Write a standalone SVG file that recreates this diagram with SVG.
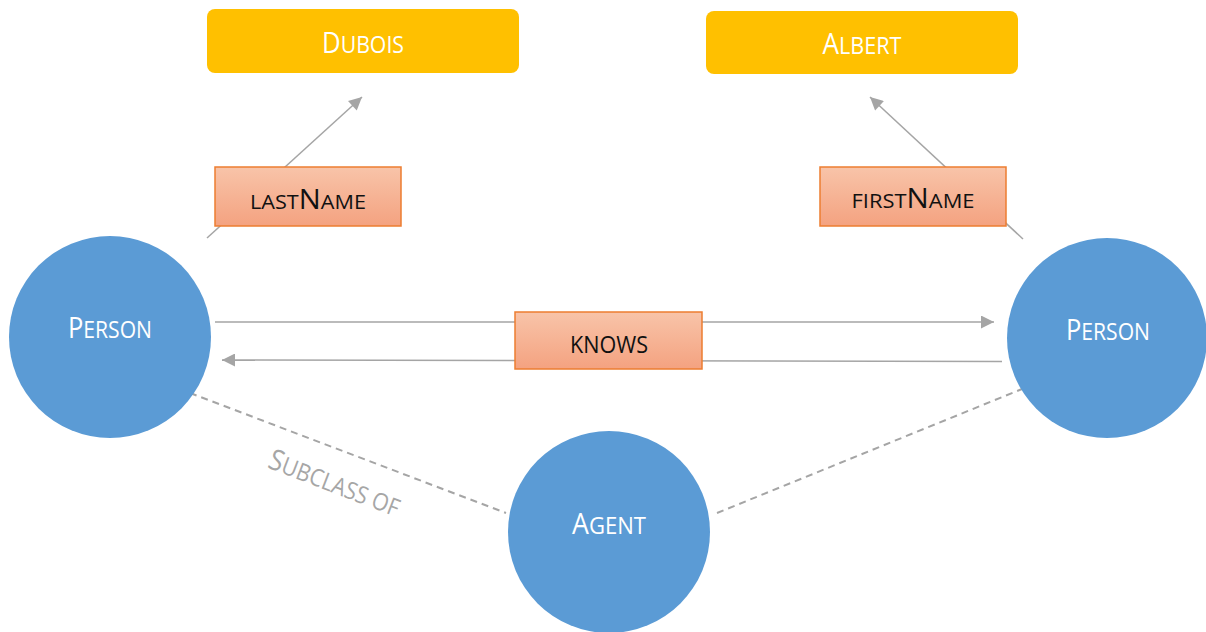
<svg xmlns="http://www.w3.org/2000/svg" width="1206" height="632" viewBox="0 0 1206 632">
<style>
.lit{fill:#FFC000}
.cls{fill:#5B9BD5}
.prop{fill:url(#pg);stroke:#ED7D31;stroke-width:1.5}
.t{font-family:"Open Sans","Liberation Sans",sans-serif;text-anchor:middle}
.w{fill:#FFFFFF}
.k{fill:#111111}
.big{font-size:29px}
.sm{font-size:24px}
.pbig{font-size:27px}
.psm{font-size:20px}
.ksm{font-size:23px}
.edge{stroke:#A5A5A5;stroke-width:1.5;fill:none}
.dash{stroke:#A5A5A5;stroke-width:2;stroke-dasharray:7 5;fill:none}
.glbl{fill:#A6A6A6}
</style>
<defs>
<linearGradient id="pg" x1="0" y1="0" x2="0" y2="1">
<stop offset="0" stop-color="#F8C4A9"/>
<stop offset="1" stop-color="#F4A280"/>
</linearGradient>
<marker id="arr" viewBox="0 0 10 10" refX="10" refY="5" markerWidth="15" markerHeight="13" markerUnits="userSpaceOnUse" orient="auto">
<path d="M0,0 L10,5 L0,10 z" fill="#A5A5A5"/>
</marker>
</defs>
<g id="connectors">
<line class="edge" x1="207" y1="238" x2="362" y2="97" marker-end="url(#arr)"/>
<line class="edge" x1="1023" y1="239" x2="870" y2="97" marker-end="url(#arr)"/>
<line class="edge" x1="215" y1="322" x2="994" y2="322" marker-end="url(#arr)"/>
<line class="edge" x1="1002" y1="361.5" x2="222" y2="360" marker-end="url(#arr)"/>
<line class="dash" x1="190" y1="393" x2="506" y2="513"/>
<line class="dash" x1="717" y1="513" x2="1022" y2="389"/>
<text class="t glbl" transform="translate(331,492) rotate(21)" textLength="138" lengthAdjust="spacingAndGlyphs"><tspan class="big">S</tspan><tspan class="sm">UBCLASS OF</tspan></text>
</g>
<g id="dubois">
<rect class="lit" x="207" y="9" width="312" height="64" rx="8"/>
<text class="t w" x="363" y="53" textLength="82" lengthAdjust="spacingAndGlyphs"><tspan class="big">D</tspan><tspan class="sm">UBOIS</tspan></text>
</g>
<g id="albert">
<rect class="lit" x="706" y="11" width="312" height="63" rx="8"/>
<text class="t w" x="862" y="54" textLength="79" lengthAdjust="spacingAndGlyphs"><tspan class="big">A</tspan><tspan class="sm">LBERT</tspan></text>
</g>
<g id="lastName">
<rect class="prop" x="215" y="167" width="186" height="59"/>
<text class="t k" x="308" y="209" textLength="116" lengthAdjust="spacingAndGlyphs"><tspan class="psm">LAST</tspan><tspan class="pbig">N</tspan><tspan class="psm">AME</tspan></text>
</g>
<g id="firstName">
<rect class="prop" x="820" y="167" width="186" height="59"/>
<text class="t k" x="913" y="208" textLength="123" lengthAdjust="spacingAndGlyphs"><tspan class="psm">FIRST</tspan><tspan class="pbig">N</tspan><tspan class="psm">AME</tspan></text>
</g>
<g id="knows">
<rect class="prop" x="515" y="312" width="187" height="57"/>
<text class="t k" x="609" y="353" textLength="78" lengthAdjust="spacingAndGlyphs"><tspan class="ksm">KNOWS</tspan></text>
</g>
<g id="person1">
<circle class="cls" cx="110" cy="337" r="101"/>
<text class="t w" x="110" y="338" textLength="84" lengthAdjust="spacingAndGlyphs"><tspan class="big">P</tspan><tspan class="sm">ERSON</tspan></text>
</g>
<g id="person2">
<circle class="cls" cx="1107" cy="338" r="100"/>
<text class="t w" x="1108" y="340" textLength="84" lengthAdjust="spacingAndGlyphs"><tspan class="big">P</tspan><tspan class="sm">ERSON</tspan></text>
</g>
<g id="agent">
<circle class="cls" cx="609" cy="532" r="101"/>
<text class="t w" x="609" y="534" textLength="74" lengthAdjust="spacingAndGlyphs"><tspan class="big">A</tspan><tspan class="sm">GENT</tspan></text>
</g>
</svg>
